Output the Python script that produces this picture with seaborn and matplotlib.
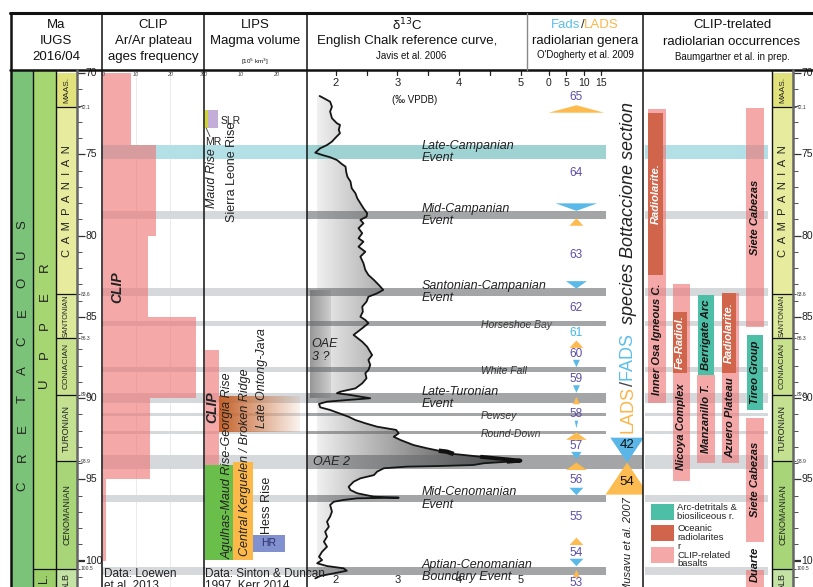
import numpy as np
import matplotlib
matplotlib.use("Agg")
import matplotlib.pyplot as plt
import matplotlib.transforms as mtransforms
from matplotlib.colors import LinearSegmentedColormap, to_rgb
from matplotlib.patches import Rectangle, Polygon
import seaborn as sns

sns.set_theme(style="white")
plt.rcParams["font.family"] = ["Liberation Sans", "DejaVu Sans"]
plt.rcParams["axes.facecolor"] = "none"

# ------------------------------------------------------------------ data
# chronostratigraphy (Ma)
stage_names = ["MAAS.", "C  A  M  P  A  N  I  A  N", "SANTONIAN", "CONIACIAN",
               "TURONIAN", "CENOMANIAN", "ALB"]
stage_top = [70.0, 72.1, 83.6, 86.3, 89.8, 93.9, 100.5]
stage_base = [72.1, 83.6, 86.3, 89.8, 93.9, 100.5, 102.1]
boundary_ages = [72.1, 83.6, 86.3, 89.8, 93.9, 100.5]
boundary_labels = ["72.1", "83.6", "86.3", "89.8", "93.9", "100.5"]
major_ages = [70, 75, 80, 85, 90, 95, 100]

# CLIP Ar/Ar plateau ages, frequency per bin
clip_edges = [70.0, 74.4, 80.0, 85.0, 90.0, 95.0, 100.0]
clip_freq = [8.5, 16.0, 13.5, 28.0, 14.0, 1.0]

# LIP magma volumes (10^5 km3) and age ranges; stacked within a group
lips_names = ["MR", "SLR", "CLIP", "Late Ontong-Java", "Agulhas", "Kerguelen", "HR"]
lips_group = [0, 0, 1, 1, 2, 2, 2]
lips_volume = [0.85, 2.8, 3.9, 22.6, 7.9, 5.6, 9.0]
lips_top = [72.26, 72.26, 87.04, 89.87, 94.12, 93.93, 98.42]
lips_base = [73.37, 73.37, 94.12, 92.08, 99.97, 99.97, 99.47]

# carbon-isotope events
event_names = ["Late-Campanian\nEvent", "Mid-Campanian\nEvent",
               "Santonian-Campanian\nEvent", "Horseshoe Bay", "White Fall",
               "Late-Turonian\nEvent", "Pewsey", "Round-Down", "OAE 2",
               "Mid-Cenomanian\nEvent", "Aptian-Cenomanian\nBoundary Event"]
event_top = [74.42, 78.48, 83.22, 85.25, 88.08, 89.69, 90.92, 92.03, 93.51, 95.97, 100.40]
event_base = [75.28, 78.97, 83.71, 85.56, 88.39, 90.30, 91.10, 92.21, 94.37, 96.40, 100.89]
minor_events = {"Horseshoe Bay", "White Fall", "Pewsey", "Round-Down"}

# English Chalk d13C reference curve (per mil VPDB) against age (Ma)
d13c_value = [1.74, 1.81, 1.91, 1.94, 1.91, 1.94, 2.02, 2.07, 2.05, 2.07, 1.99, 1.94,
              1.86, 1.75, 1.67, 1.78, 1.91, 2.02, 2.10, 2.16, 2.17, 2.19, 2.24, 2.26,
              2.32, 2.35, 2.40, 2.45, 2.51, 2.50, 2.40, 2.45, 2.37, 2.43, 2.37, 2.45,
              2.37, 2.48, 2.40, 2.45, 2.48, 2.53, 2.62, 2.70, 2.77, 2.67, 2.53, 2.50,
              2.43, 2.44, 2.40, 2.48, 2.53, 2.43, 2.29, 2.43, 2.51, 2.59, 2.53, 2.56,
              2.53, 2.48, 2.50, 2.43, 2.32, 2.07, 2.02, 2.24, 2.56, 2.18, 1.86, 1.73,
              1.75, 1.91, 2.13, 2.21, 2.32, 2.48, 2.67, 2.83, 2.98, 3.02, 2.94, 3.05,
              3.26, 3.48, 3.67, 3.80, 3.91, 4.07, 4.34, 4.61, 4.99, 4.77, 4.40, 4.23,
              3.69, 3.15, 2.78, 2.67, 2.62, 2.51, 2.40, 2.29, 2.21, 2.24, 2.35, 2.62,
              3.02, 2.35, 2.13, 1.97, 1.91, 1.94, 1.91, 1.86, 1.89, 1.83, 1.86, 1.81,
              1.86, 1.78, 1.73, 1.78, 1.70, 1.86, 2.13, 2.18, 1.97, 1.75, 1.67]
d13c_age = [71.40, 71.54, 71.75, 72.06, 72.36, 72.77, 73.08, 73.18, 73.49, 73.69, 74.00, 74.21,
            74.42, 74.62, 74.89, 75.03, 75.17, 75.34, 75.59, 75.75, 76.06, 76.37, 76.67, 77.08,
            77.39, 77.70, 78.00, 78.31, 78.62, 78.83, 79.03, 79.24, 79.54, 79.85, 80.16, 80.37,
            80.68, 80.99, 81.29, 81.70, 82.11, 82.42, 82.73, 83.04, 83.34, 83.55, 83.76, 84.06,
            84.37, 84.68, 84.99, 85.19, 85.39, 85.70, 86.11, 86.53, 86.84, 87.35, 87.65, 87.96,
            88.27, 88.47, 88.78, 89.09, 89.40, 89.61, 89.70, 89.81, 90.01, 90.12, 90.22, 90.36,
            90.57, 90.73, 91.04, 91.15, 91.35, 91.55, 91.76, 91.86, 91.96, 92.17, 92.38, 92.58,
            92.89, 93.09, 93.24, 93.30, 93.44, 93.50, 93.61, 93.71, 93.85, 93.92, 94.01, 94.12,
            94.18, 94.22, 94.32, 94.53, 94.74, 94.84, 94.94, 95.15, 95.46, 95.66, 95.86, 96.07,
            96.13, 96.17, 96.27, 96.38, 96.58, 96.99, 97.30, 97.61, 97.92, 98.23, 98.53, 98.84,
            99.15, 99.46, 99.77, 99.97, 100.17, 100.34, 100.48, 100.63, 100.79, 100.95, 101.10]
oae3_top, oae3_base = 83.40, 89.99

# radiolarian genera: zones, last (LADS) and first (FADS) appearances
zone_numbers = [65, 64, 63, 62, 61, 60, 59, 58, 57, 56, 55, 54, 53]
zone_age = [71.46, 76.15, 81.20, 84.45, 85.99, 87.28, 88.82, 90.98, 92.95, 95.04, 97.32, 99.54, 101.40]
highlight_zone = {61}
lads_age = [72.20, 79.16, 86.68, 90.15, 92.34, 94.20, 98.82, 100.80]
lads_count = [16, 4, 4, 2, 6, 6, 4, 2]
fads_age = [78.24, 83.03, 87.87, 89.44, 91.62, 93.54, 95.75, 100.12]
fads_count = [12, 6, 2, 2, 1, 3, 4, 4]

# species turnover at the Bottaccione section across OAE 2
bott_age = 93.97
bott_fads = 42
bott_lads = 54

# CLIP-related radiolarian occurrences
occ_lane = [0, 0, 1, 1, 2, 2, 3, 3, 4, 4, 4, 4]
occ_kind = ["basalt", "radiolarite", "basalt", "radiolarite", "arc", "basalt",
            "basalt", "radiolarite", "basalt", "arc", "basalt", "basalt"]
occ_top = [72.20, 72.45, 82.97, 84.70, 83.65, 88.57, 83.50, 83.50, 72.14, 86.10, 91.20, 100.57]
occ_base = [90.30, 82.40, 95.10, 88.45, 88.57, 93.99, 94.00, 88.45, 85.60, 90.73, 98.85, 101.70]
occ_label = ["Inner Osa Igneous C.", "Radiolarite.", "Nicoya Complex", "Fe-Radiol.",
             "Berrigate Arc", "Manzanillo T.", "Azuero Plateau", "Radiolarite.",
             "Siete Cabezas", "Tireo Group", "Siete Cabezas", "Duarte"]
legend_labels = {"arc": "Arc-detritals &\nbiosiliceous r.",
                 "radiolarite": "Oceanic\nradiolarites",
                 "basalt": "r\nCLIP-related\nbasalts"}

# ------------------------------------------------------------------ styles
W, H = 813, 587
TOP_PX = 70
AGE_TOP, AGE_BOT = 69.80, 101.63
BODY_H = (H - TOP_PX) / H

stage_colors = ["#e2e27c", "#e6eb9d", "#dce89a", "#c8e18c", "#c4e091", "#a8d577", "#c3e2a4"]
stage_fs = [6, 8, 5.2, 6, 6.5, 6.5, 6.5]
CRET_COL, UPPER_COL, LOWER_COL = "#7cc37a", "#a6d672", "#9ccf69"
PINK, PINK_A = "#ef6f6f", 0.6
RED, TEAL = "#d0654b", "#4dbfa6"
ORANGE, BLUE = "#fdbb4f", "#5ab9e9"
ZONE_COL, ZONE_HI = "#5b4ea8", "#3fb6e6"
kind_color = {"basalt": PINK, "radiolarite": RED, "arc": TEAL}

fig = plt.figure(figsize=(W / 100, H / 100), dpi=100)
fig.patch.set_facecolor("white")
renderer = fig.canvas.get_renderer()
limits = []


def column(x0, x1, xlim):
    ax = fig.add_axes([x0 / W, 0, (x1 - x0) / W, BODY_H])
    ax.set_axis_off()
    limits.append((ax, xlim))
    ax.set_xlim(*xlim)
    ax.set_ylim(AGE_BOT, AGE_TOP)
    return ax


def light_bands(ax, x0=0.0, x1=1.0, z=0.5):
    for name, t, b in zip(event_names, event_top, event_base):
        col = "#b3e0e6" if name.startswith("Late-Campanian") else "#d6d9db"
        ax.axhspan(t, b, xmin=x0, xmax=x1, color=col, lw=0, zorder=z)


def dark_bands(ax, x0=0.0, x1=1.0, full=(), z=2):
    for name, t, b in zip(event_names, event_top, event_base):
        col = "#5fb4b7" if name.startswith("Late-Campanian") else "#66696b"
        ax.axhspan(t, b, xmin=x0, xmax=1.0 if name in full else x1,
                   color=col, alpha=0.6, lw=0, zorder=z)


# ---------------------------------------------------------- stage columns
def stage_column(ax):
    for name, t, b, c, fs in zip(stage_names, stage_top, stage_base, stage_colors, stage_fs):
        bars = ax.bar(0.5, b - t, bottom=t, width=1.0, color=c, edgecolor="none", zorder=1)
        txt = ax.text(0.5, (t + b) / 2, name, rotation=90, ha="center", va="center",
                      fontsize=fs, color="#222", zorder=3)
        txt.set_clip_path(bars.patches[0])
    for a in boundary_ages:
        ax.axhline(a, color="#111", lw=0.9, zorder=2)


def tick_column(ax):
    for a in range(70, 102):
        major = a % 5 == 0
        ax.hlines(a, 0, 8 if major else 5, color="#333",
                  lw=(1.6 if a == 100 else 0.9) if major else 0.6)
        if major:
            ax.text(8.5, a, str(a), fontsize=7.5, va="center", ha="left", color="#222")
    for a, lab in zip(boundary_ages, boundary_labels):
        ax.hlines(a, 0, 3, color="#333", lw=0.6)
        ax.text(3.3, a, lab, fontsize=3.6, va="center", ha="left", color="#333")


ax_cret = column(12, 33, (0, 1))
ax_cret.bar(0.5, AGE_BOT - AGE_TOP, bottom=AGE_TOP, width=1, color=CRET_COL, edgecolor="none")
word = "CRETACEOUS"
for i, ch in enumerate(word):
    ax_cret.text(0.5, 87.40 + ((len(word) - 1) / 2 - i) * 1.79, ch, rotation=90,
                 ha="center", va="center", fontsize=9.5, color="#222")

ax_up = column(33, 56, (0, 1))
ax_up.bar(0.5, 100.5 - AGE_TOP, bottom=AGE_TOP, width=1, color=UPPER_COL, edgecolor="none")
ax_up.bar(0.5, AGE_BOT - 100.5, bottom=100.5, width=1, color=LOWER_COL, edgecolor="none")
ax_up.axhline(100.5, color="#111", lw=0.9)
word = "UPPER"
for i, ch in enumerate(word):
    ax_up.text(0.5, 85.51 + ((len(word) - 1) / 2 - i) * 1.79, ch, rotation=90,
               ha="center", va="center", fontsize=9.5, color="#222")
ax_up.text(0.5, 101.1, "L.", rotation=90, ha="center", va="center", fontsize=8.5, color="#222")

ax_stage = column(56, 77, (0, 1))
stage_column(ax_stage)
ax_tick = column(77, 102, (0, 25))
tick_column(ax_tick)

ax_rstage = column(772, 793, (0, 1))
stage_column(ax_rstage)
ax_rtick = column(793, 813, (0, 20))
tick_column(ax_rtick)

# ---------------------------------------------------------- CLIP histogram
ax_clip = column(102, 204, (-0.3, 30.33))
light_bands(ax_clip)
for g in (10, 20):
    ax_clip.axvline(g, color="#e6e6e6", lw=0.6, zorder=0.2)
clip_mid = [(a + b) / 2 for a, b in zip(clip_edges[:-1], clip_edges[1:])]
sns.histplot(y=clip_mid, weights=clip_freq, bins=clip_edges, ax=ax_clip,
             color=PINK, alpha=PINK_A, edgecolor="none", linewidth=0, zorder=1)
ax_clip.set_axis_off()
ax_clip.text(4.2, 83.17, "CLIP", rotation=90, ha="center", va="center",
             fontsize=10, fontweight="bold", style="italic", color="#222", zorder=3)
tr = mtransforms.blended_transform_factory(ax_clip.transData, ax_clip.transAxes)
for v in (0, 10, 20, 30):
    ax_clip.text(v, 1 - 5 / 517, str(v), transform=tr, ha="center", va="center",
                 fontsize=4, style="italic", color="#444")

# ---------------------------------------------------------- LIPS volumes
ax_lips = column(204, 307, (-0.3, 28.7))
light_bands(ax_lips)
lips_colors = {"MR": "#d2d531", "SLR": "#c3aed8", "CLIP": PINK, "Agulhas": "#6abf4b",
               "Kerguelen": "#fdb84a", "HR": "#8190cf"}
stack = {}
lips_left = []
for g, v in zip(lips_group, lips_volume):
    lips_left.append(stack.get(g, 0.0))
    stack[g] = stack.get(g, 0.0) + v
for name, left, v, t, b in zip(lips_names, lips_left, lips_volume, lips_top, lips_base):
    if name == "Late Ontong-Java":
        rgb = np.array(to_rgb("#c4622a"))
        img = np.ones((2, 200, 4))
        img[..., :3] = rgb
        img[..., 3] = np.linspace(1.0, 0.08, 200)[None, :]
        ax_lips.imshow(img, extent=(left, left + v, b, t), aspect="auto",
                       interpolation="bilinear", zorder=1)
    else:
        ax_lips.barh((t + b) / 2, v, height=b - t, left=left, color=lips_colors[name],
                     alpha=PINK_A if name == "CLIP" else 1.0, edgecolor="none", zorder=1)
ax_lips.text(4.4, 72.94, "SLR", fontsize=7.5, va="center", ha="left", color="#222")
ax_lips.text(0.0, 74.23, "MR", fontsize=7.5, va="center", ha="left", color="#222")
ax_lips.plot([0.3, 1.4], [73.37, 73.9], color="#333", lw=0.6)
ax_lips.text(18.0, 98.95, "HR", fontsize=7.5, va="center", ha="center", color="#2b2f6b", zorder=3)
ax_lips.text(1.97, 76.45, "Maud Rise", rotation=90, fontsize=9, style="italic",
             ha="center", va="center", color="#222")
ax_lips.text(7.6, 76.1, "Sierra Leone Rise", rotation=90, fontsize=9,
             ha="center", va="center", color="#222")
ax_lips.text(1.97, 90.55, "CLIP", rotation=90, fontsize=10, fontweight="bold", style="italic",
             ha="center", va="center", color="#222", zorder=3)
ax_lips.text(16.0, 88.76, "Late Ontong-Java", rotation=90, fontsize=9, style="italic",
             ha="center", va="center", color="#222", zorder=3)
ax_lips.text(6.4, 94.18, "Agulhas-Maud Rise-Georgia Rise", rotation=90, fontsize=9,
             style="italic", ha="center", va="center", color="#222", zorder=3)
ax_lips.text(11.2, 93.93, "Central Kerguelen / Broken Ridge", rotation=90, fontsize=9,
             style="italic", ha="center", va="center", color="#222", zorder=3)
ax_lips.text(17.5, 96.58, "Hess Rise", rotation=90, fontsize=9, ha="center", va="center",
             color="#222", zorder=3)
tr = mtransforms.blended_transform_factory(ax_lips.transData, ax_lips.transAxes)
for v in (0, 10, 20):
    ax_lips.text(v, 1 - 5 / 517, str(v), transform=tr, ha="center", va="center",
                 fontsize=4, style="italic", color="#444")

# ---------------------------------------------------------- d13C curve
ax_d = column(307, 527, (1.536, 5.097))
chalk = LinearSegmentedColormap.from_list(
    "chalk", [(0, "#efefef"), (0.09, "#dcdcdc"), (0.24, "#bcbcbc"), (0.38, "#a0a0a0"),
              (0.53, "#838383"), (0.68, "#5e5e5e"), (0.82, "#3a3a3a"), (1, "#1c1c1c")])
grad = np.linspace(1.70, 5.10, 400)[None, :]
im = ax_d.imshow(grad, extent=(1.70, 5.10, AGE_BOT, AGE_TOP), cmap=chalk, vmin=1.70,
                 vmax=5.10, aspect="auto", interpolation="bilinear", zorder=1)
poly = ax_d.fill_betweenx(d13c_age, 1.70, d13c_value, facecolor="none", edgecolor="none")
im.set_clip_path(poly.get_paths()[0], transform=ax_d.transData)
oae3 = np.linspace(0, 1, 100)[None, :]
ax_d.imshow(oae3, extent=(1.584, 1.908, oae3_base, oae3_top), aspect="auto",
            cmap=LinearSegmentedColormap.from_list("oae3", ["#929292", "#cdcdcd"]),
            interpolation="bilinear", zorder=1.5, alpha=0.95)
dark_bands(ax_d, z=2)
sns.lineplot(x=d13c_value, y=d13c_age, sort=False, estimator=None, ax=ax_d,
             color="#151515", lw=1.3, zorder=3)
ax_d.plot(d13c_value[86:89], d13c_age[86:89], color="#111", lw=3.2, zorder=3,
          solid_capstyle="butt")
ax_d.plot(d13c_value[90:94], d13c_age[90:94], color="#111", lw=2.8, zorder=3,
          solid_capstyle="butt")
ax_d.set_axis_off()
for name, t, b in zip(event_names, event_top, event_base):
    mid = (t + b) / 2
    if name == "OAE 2":
        ax_d.text(1.64, mid, name, fontsize=9, style="italic", va="center", ha="left",
                  color="#222", zorder=4)
    elif name in minor_events:
        ax_d.text(4.35, mid + 0.08, name, fontsize=7.5, style="italic", va="center",
                  ha="left", color="#333", zorder=4)
    else:
        ax_d.text(3.397, mid, name, fontsize=9, style="italic", va="center", ha="left",
                  color="#222", zorder=4, linespacing=1.1)
ax_d.text(1.61, (oae3_top + oae3_base) / 2 + 0.4, "OAE\n3 ?", fontsize=9, style="italic",
          va="center", ha="left", color="#222", zorder=4, linespacing=1.1)
tr = mtransforms.blended_transform_factory(ax_d.transData, ax_d.transAxes)
for v in (2, 2.5, 3, 3.5, 4, 4.5, 5):
    ax_d.plot([v, v], [1, 1 - 5 / 517], transform=tr, color="#222", lw=0.9, clip_on=False)
for v in (2, 3, 4, 5):
    ax_d.text(v, 1 - 13 / 517, str(v), transform=tr, ha="center", va="center",
              fontsize=8, color="#222")
    ax_d.text(v, 7 / 517, str(v), transform=tr, ha="center", va="center",
              fontsize=8, color="#222")

# ---------------------------------------------------------- radiolarian genera
ax_f = column(527, 643, (-6.34, 27.09))
dark_bands(ax_f, x1=0.68, full={"OAE 2"}, z=1)
CEN, HH = 7.9, 0.23
for a, c in zip(lads_age, lads_count):
    ax_f.add_patch(Polygon([(CEN - c / 2, a + HH), (CEN + c / 2, a + HH), (CEN, a - HH)],
                           closed=True, color=ORANGE, lw=0, zorder=2))
for a, c in zip(fads_age, fads_count):
    ax_f.add_patch(Polygon([(CEN - c / 2, a - HH), (CEN + c / 2, a - HH), (CEN, a + HH)],
                           closed=True, color=BLUE, lw=0, zorder=2))
for z, a in zip(zone_numbers, zone_age):
    ax_f.text(CEN, a, str(z), fontsize=8.5, ha="center", va="center",
              color=ZONE_HI if z in highlight_zone else ZONE_COL, zorder=3)
BC, BW, BH = 22.5, 0.23, 0.0365
h42, h54 = bott_fads * BH, bott_lads * BH
ax_f.add_patch(Polygon([(BC - bott_fads * BW / 2, bott_age - h42),
                        (BC + bott_fads * BW / 2, bott_age - h42), (BC, bott_age)],
                       closed=True, color="#5ab6e6", lw=0, zorder=2))
ax_f.add_patch(Polygon([(BC - bott_lads * BW / 2, bott_age + h54),
                        (BC + bott_lads * BW / 2, bott_age + h54), (BC, bott_age)],
                       closed=True, color="#fcbc51", lw=0, zorder=2))
ax_f.text(BC, bott_age - 0.72 * h42, str(bott_fads), fontsize=9.5, ha="center", va="center",
          color="#111", zorder=3)
ax_f.text(BC, bott_age + 0.6 * h54, str(bott_lads), fontsize=9.5, ha="center", va="center",
          color="#111", zorder=3)
tr = mtransforms.blended_transform_factory(ax_f.transData, ax_f.transAxes)
for v in (0, 5, 10, 15):
    ax_f.plot([v, v], [1, 1 - 5 / 517], transform=tr, color="#222", lw=0.9, clip_on=False)
    ax_f.text(v, 1 - 13 / 517, str(v), transform=tr, ha="center", va="center",
              fontsize=7.5, color="#222")

# ---------------------------------------------------------- occurrences
LANE0, LANE_W = 657, 24.5
ax_r = column(643, 772, ((643 - LANE0) / LANE_W, (772 - LANE0) / LANE_W))
light_bands(ax_r, x0=2 / 129, x1=125 / 129)
for lane, kind, t, b, lab in zip(occ_lane, occ_kind, occ_top, occ_base, occ_label):
    if kind == "basalt":
        ax_r.bar(lane, b - t, bottom=t, width=0.7, color=PINK, alpha=PINK_A,
                 edgecolor="none", zorder=1)
    elif kind == "radiolarite":
        ax_r.bar(lane - 0.35, b - t, bottom=t, width=0.58, align="edge", color=RED,
                 edgecolor="none", zorder=2)
    else:
        ax_r.bar(lane, b - t, bottom=t, width=0.62, color=TEAL, edgecolor="none", zorder=2)
for lane, kind, t, b, lab in zip(occ_lane, occ_kind, occ_top, occ_base, occ_label):
    mid = (t + b) / 2
    xc = lane
    if kind == "basalt":
        inner = [(tt, bb) for l2, k2, tt, bb in zip(occ_lane, occ_kind, occ_top, occ_base)
                 if l2 == lane and k2 == "radiolarite" and tt >= t - 0.5 and bb <= b]
        if inner:
            mid = (inner[0][1] + b) / 2
        if lab == "Duarte":
            mid = t - 0.35
    elif kind == "radiolarite":
        xc = lane - 0.35 + 0.29
    ax_r.text(xc, mid, lab, rotation=90, ha="center", va="center", fontsize=8,
              fontweight="bold", style="italic",
              color="white" if kind == "radiolarite" else "#151515", zorder=4)

# ---------------------------------------------------------- frame, header
axp = fig.add_axes([0, 0, 1, 1], zorder=20)
axp.set_axis_off()
axp.set_xlim(0, W)
axp.set_ylim(H, 0)

axp.plot([10, W], [13, 13], color="#111", lw=2.2)
axp.plot([10, W], [70, 70], color="#111", lw=1.8)
axp.plot([11, 11], [13, H], color="#111", lw=1.8)
for x in (102, 204, 307, 643):
    axp.plot([x, x], [13, H], color="#111", lw=1.1)
axp.plot([527, 527], [13, 70], color="#888", lw=1.0)
for x in (33, 56, 772):
    axp.plot([x, x], [70, H], color="#111", lw=1.0)
for x in (77, 793):
    axp.plot([x, x], [70, H], color="#666", lw=1.8)

hdr = dict(ha="center", va="center", color="#111")
for x, lines in ((56, ["Ma", "IUGS", "2016/04"]),
                 (153, ["CLIP", "Ar/Ar plateau", "ages frequency"])):
    for y, s in zip((25, 41, 57), lines):
        axp.text(x, y, s, fontsize=9.5, **hdr)
axp.text(255, 25, "LIPS", fontsize=9.5, **hdr)
axp.text(255, 41, "Magma volume", fontsize=9.5, **hdr)
axp.text(255, 62, "[10$^5$ km$^3$]", fontsize=4.5, **hdr)
axp.text(407, 25, "δ$^{13}$C", fontsize=9.5, **hdr)
axp.text(407, 41, "English Chalk reference curve,", fontsize=9.5, **hdr)
axp.text(411, 56, "Javis et al. 2006", fontsize=7, **hdr)
axp.text(585, 41, "radiolarian genera", fontsize=9.5, **hdr)
axp.text(585, 55, "O'Dogherty et al. 2009", fontsize=7, **hdr)
axp.text(732, 25, "CLIP-trelated", fontsize=9.5, **hdr)
axp.text(732, 42, "radiolarian occurrences", fontsize=9.5, **hdr)
axp.text(732, 57, "Baumgartner et al. in prep.", fontsize=7, **hdr)
axp.text(415, 100, "(‰ VPDB)", fontsize=7, **hdr)


def run_text(x, y, pieces, fontsize, rotation=0, centered=True, gap=0.0):
    objs, lengths = [], []
    for s, col, st in pieces:
        t = axp.text(0, 0, s, fontsize=fontsize, color=col, style=st, rotation=rotation,
                     rotation_mode="anchor", ha="left", va="center")
        bb = t.get_window_extent(renderer)
        objs.append(t)
        lengths.append((bb.width if rotation == 0 else bb.height) + (gap if s.endswith(" ") else 0))
    total = sum(lengths)
    pos = (x - total / 2) if (centered and rotation == 0) else (x if rotation == 0 else y)
    for t, ln in zip(objs, lengths):
        if rotation == 0:
            t.set_position((pos, y))
            pos += ln
        else:
            t.set_position((x, pos))
            pos -= ln


run_text(585, 25, [("Fads", "#5bbfea", "normal"), ("/", "#333", "normal"),
                   ("LADS", "#fbb64a", "normal")], 9.5)
run_text(628, 433, [("LADS", "#fbb64a", "normal"), ("/", "#444", "normal"),
                    ("FADS ", "#5bbfea", "normal"),
                    ("species Bottaccione section", "#222", "italic")],
         13, rotation=90, gap=4.5)
axp.text(628, 497, "Musavu et al. 2007", rotation=90, rotation_mode="anchor", ha="right",
         va="center", fontsize=8, style="italic", color="#222")

axp.text(104, 568, "Data: Loewen\net al. 2013", va="top", ha="left", fontsize=8.5,
         color="#222", linespacing=0.95)
axp.text(205, 568, "Data: Sinton & Duncan\n1997, Kerr 2014", va="top", ha="left",
         fontsize=8.5, color="#222", linespacing=0.95)

# legend for the occurrence column
for (kind, lab), yb in zip(legend_labels.items(), (504, 525, 547)):
    axp.add_patch(Rectangle((651, yb), 23, 16, color=kind_color[kind],
                            alpha=PINK_A if kind == "basalt" else 1.0, lw=0))
    axp.text(677, yb + 8, lab, fontsize=6.8, va="center", ha="left", color="#222",
             linespacing=0.95)

for ax, xl in limits:
    ax.set_xlim(*xl)
    ax.set_ylim(AGE_BOT, AGE_TOP)

fig.savefig("out.png", dpi=100)
